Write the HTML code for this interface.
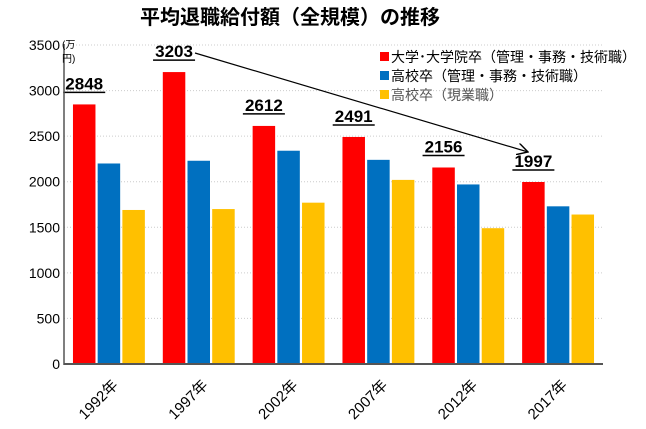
<!DOCTYPE html>
<html><head><meta charset="utf-8"><style>
body{margin:0;background:#fff;width:646px;height:424px;overflow:hidden}
svg{font-family:"Liberation Sans","Noto Sans CJK JP",sans-serif}
</style></head><body>
<svg id="c" width="646" height="424">
<text x="290" y="24" font-size="20" font-weight="bold" text-anchor="middle" fill="#000">平均退職給付額（全規模）の推移</text>
<g id="grid"></g><g id="bars"></g><g id="labels"></g>
<line x1="64" y1="364" x2="603" y2="364" stroke="#555" stroke-width="2"/>
<line x1="64" y1="44" x2="64" y2="365" stroke="#555" stroke-width="1.5"/>
<text x="62" y="48" font-size="10">(万</text>
<text x="62" y="62" font-size="10">円)</text>
<defs><marker id="ah" markerWidth="10" markerHeight="10" refX="9" refY="5" orient="auto"><path d="M0,0 L9,5 L0,10" fill="none" stroke="#000" stroke-width="1.2"/></marker></defs>
<line x1="195" y1="53" x2="528" y2="152" stroke="#000" stroke-width="1.2" marker-end="url(#ah)"/>
<g>
<rect x="380" y="52" width="9" height="9" fill="#ff0000"/>
<text x="391" y="62" font-size="14">大学･大学院卒（管理・事務・技術職）</text>
<rect x="380" y="71" width="9" height="9" fill="#0070c0"/>
<text x="391" y="81" font-size="14">高校卒（管理・事務・技術職）</text>
<rect x="380" y="90" width="9" height="9" fill="#ffc000"/>
<text x="391" y="100" font-size="14" fill="#555">高校卒（現業職）</text>
</g>
</svg>
<script>
const categories=["1992年","1997年","2002年","2007年","2012年","2017年"];
const univ=[2848,3203,2612,2491,2156,1997];
const hs=[2200,2230,2340,2240,1970,1730];
const hsField=[1690,1700,1770,2020,1490,1640];
const yTicks=[0,500,1000,1500,2000,2500,3000,3500];
const NS="http://www.w3.org/2000/svg";
const x0=64,x1=603,y0=364,yMax=3500,yTop=45;
const y=v=>y0-v/yMax*(y0-yTop);
const step=(x1-x0)/categories.length;
const gx=i=>x0+step*i+step/2;
function mk(t,a,p){const e=document.createElementNS(NS,t);for(const k in a)e.setAttribute(k,a[k]);p.appendChild(e);return e;}
const grid=document.getElementById('grid'),bars=document.getElementById('bars'),labs=document.getElementById('labels');
yTicks.forEach(v=>{
 if(v>0){const l=mk('line',{x1:x0,x2:x1,y1:y(v),y2:y(v),stroke:'#ccc','stroke-dasharray':'1,2'},grid);
 
 }
 const t=mk('text',{x:60,y:y(v)+5,'font-size':14,'text-anchor':'end'},grid);t.textContent=v;
 
 
});
const series=[[univ,'#ff0000','bar-univ'],[hs,'#0070c0','bar-hs'],[hsField,'#ffc000','bar-hs-field']];
const bw=22.5;
categories.forEach((c,i)=>{
 series.forEach((s,j)=>{
  const cx=gx(i)+(j-1)*24.7;
  const r=mk('rect',{x:cx-bw/2,y:y(s[0][i]),width:bw,height:y0-y(s[0][i]),fill:s[1]},bars);
  
  
 });
 const cx=gx(i)-24.7;
 const t=mk('text',{x:cx,y:y(univ[i])-15,'font-size':17,'font-weight':'bold','text-anchor':'middle'},labs);
 t.textContent=univ[i];
 
 
 const u=mk('line',{x1:cx-21,x2:cx+21,y1:y(univ[i])-12,y2:y(univ[i])-12,stroke:'#000','stroke-width':1.5},labs);
 
 
 const xl=mk('text',{x:0,y:0,'font-size':15,'text-anchor':'end',transform:`translate(${gx(i)+10},${y0+22}) rotate(-45)`},labs);
 xl.textContent=c;
 
 
});
</script>
</body></html>
